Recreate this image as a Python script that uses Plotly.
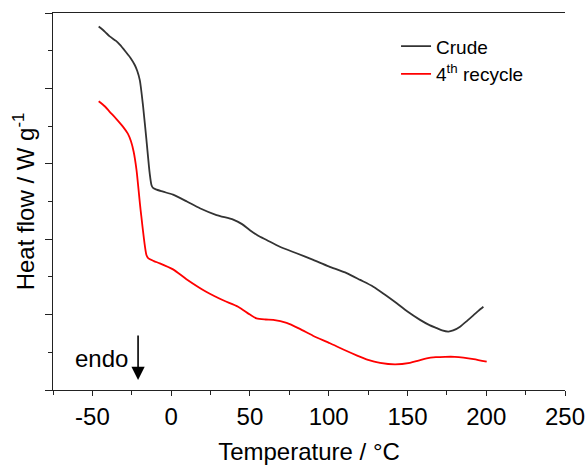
import plotly.graph_objects as go

# DSC heating traces (temperature in °C, heat flow in arbitrary offset units)
crude_t = [-46, -42, -39, -35, -32.6, -29, -26, -23.1, -21.5, -19.9, -17.8, -15.7,
           -13.6, -12.5, -11.5, -9.7, -5.1, 1.2, 10, 18.2, 28.8, 39.4, 45, 50,
           55, 60.6, 69, 80, 90.2, 100, 111.4, 120, 128.3, 136, 143.2, 150,
           158, 164, 168.6, 172, 176, 179, 183.4, 188, 191.8, 195, 198.2]
crude_q = [4.82, 4.75, 4.69, 4.63, 4.58, 4.49, 4.41, 4.31, 4.23, 4.11, 3.76, 3.32,
           2.87, 2.72, 2.68, 2.66, 2.63, 2.59, 2.50, 2.41, 2.32, 2.26, 2.20, 2.12,
           2.05, 1.99, 1.90, 1.81, 1.725, 1.64, 1.55, 1.46, 1.37, 1.26, 1.15, 1.04,
           0.93, 0.86, 0.82, 0.79, 0.775, 0.79, 0.84, 0.92, 0.99, 1.05, 1.105]

recycle_t = [-46, -42, -39, -35, -30.5, -27.5, -25.5, -23.8, -22, -19.4, -15.7,
             -14.6, -11, -7.2, 1.2, 9.7, 22.5, 33, 42.5, 50, 54.2, 60, 64.8,
             73.3, 81.7, 90, 100.8, 110, 117.7, 125, 132.6, 142.1, 151.6, 157,
             162.2, 168, 173.9, 180, 185.5, 192, 200.3]
recycle_q = [3.83, 3.76, 3.69, 3.60, 3.49, 3.40, 3.30, 3.16, 2.92, 2.39, 1.79,
             1.75, 1.71, 1.68, 1.60, 1.47, 1.30, 1.19, 1.105, 1.00, 0.95, 0.935, 0.93,
             0.89, 0.81, 0.72, 0.62, 0.53, 0.46, 0.40, 0.36, 0.34, 0.36, 0.39,
             0.42, 0.435, 0.44, 0.44, 0.43, 0.41, 0.375]

series_names = ["Crude", "4<sup>th</sup> recycle"]
series_colors = ["#333333", "#ff0000"]

x_ticks = [-50, 0, 50, 100, 150, 200, 250]
x_tick_text = ["-50", "0", "50", "100", "150", "200", "250"]

FONT = "Liberation Sans, Arial, sans-serif"

fig = go.Figure()
for name, t, q, c in [(series_names[0], crude_t, crude_q, series_colors[0]),
                      (series_names[1], recycle_t, recycle_q, series_colors[1])]:
    fig.add_trace(go.Scatter(x=t, y=q, mode="lines", name=name,
                             line=dict(color=c, width=1.8, shape="spline", smoothing=0.7)))

axis_col = "#222222"

fig.update_layout(
    width=587, height=465,
    margin=dict(l=53, r=22, t=13, b=75),
    paper_bgcolor="white", plot_bgcolor="white",
    font=dict(family=FONT, size=24, color="black"),
    showlegend=True,
    legend=dict(x=0.67, y=0.962, xanchor="left", yanchor="top",
                font=dict(size=19, family=FONT, color="black"),
                bgcolor="rgba(0,0,0,0)", tracegroupgap=0, itemwidth=30),
    xaxis=dict(range=[-75, 250], tickvals=x_ticks, ticktext=x_tick_text,
               ticks="outside", ticklen=5, automargin=False,
               tickwidth=1.3, tickcolor=axis_col, showline=True, linecolor=axis_col,
               linewidth=1.3, mirror=True, showgrid=False, zeroline=False,
               minor=dict(dtick=25, tick0=0, ticks="outside", ticklen=4,
                          tickwidth=1.3, tickcolor=axis_col, showgrid=False),
               tickfont=dict(size=24), title=dict(text="Temperature / °C",
                                                   font=dict(size=24), standoff=14)),
    yaxis=dict(range=[0, 5], dtick=1, tick0=0, ticks="outside", ticklen=7,
               automargin=False,
               tickwidth=1.3, tickcolor=axis_col, showline=True, linecolor=axis_col,
               linewidth=1.3, mirror=False, showgrid=False, zeroline=False,
               showticklabels=False,
               minor=dict(dtick=0.5, tick0=0, ticks="outside", ticklen=3.5,
                          tickwidth=1.3, tickcolor=axis_col, showgrid=False),
               title=dict(text="Heat flow / W g<sup>-1</sup>", font=dict(size=24),
                          standoff=3)),
    yaxis2=dict(range=[0, 5], overlaying="y", side="right", anchor="x",
                automargin=False,
                dtick=1, tick0=0, ticks="inside", ticklen=6, tickwidth=1.3,
                tickcolor=axis_col, showline=True, linecolor=axis_col, linewidth=1.3,
                showgrid=False, zeroline=False, showticklabels=False,
                minor=dict(dtick=0.5, tick0=0, ticks="inside", ticklen=3.5,
                           tickwidth=1.3, tickcolor=axis_col, showgrid=False)),
)

# endotherm direction marker
fig.add_annotation(x=-21, y=0.133, ax=-21, ay=0.743, xref="x", yref="y",
                   axref="x", ayref="y", text="", showarrow=True, arrowhead=2,
                   arrowwidth=1.6, arrowsize=1.65, arrowcolor="black", standoff=0)
fig.add_annotation(x=-44.2, y=0.42, xref="x", yref="y", text="endo",
                   showarrow=False, font=dict(size=24, family=FONT, color="black"))

fig.write_html("out.html")
